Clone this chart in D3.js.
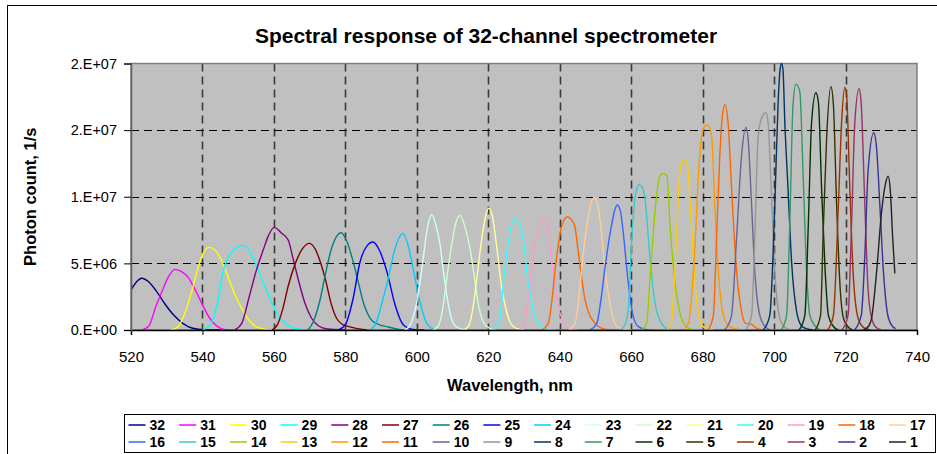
<!DOCTYPE html>
<html>
<head>
<meta charset="utf-8">
<script src="https://cdn.jsdelivr.net/npm/d3@7"></script>
<style>
  html, body { margin: 0; padding: 0; background: #fff; }
  svg { display: block; font-family: "Liberation Sans", Arial, sans-serif; }
</style>
</head>
<body>
<svg id="chart" width="937" height="454"></svg>
<script>
// ---------------- data ----------------
const chartTitle = "Spectral response of 32-channel spectrometer";
const xAxisTitle = "Wavelength, nm";
const yAxisTitle = "Photon count, 1/s";

const wavelengthTicks = [520, 540, 560, 580, 600, 620, 640, 660, 680, 700, 720, 740];
// photon count in millions of 1/s
const countTicks = [0, 5, 10, 15, 20];
const countTickLabels = ["0.E+00", "5.E+06", "1.E+07", "2.E+07", "2.E+07"];

const channels = [32, 31, 30, 29, 28, 27, 26, 25, 24, 23, 22, 21, 20, 19, 18, 17,
                  16, 15, 14, 13, 12, 11, 10, 9, 8, 7, 6, 5, 4, 3, 2, 1];
const channelColors = ["#000080", "#FF00FF", "#FFFF00", "#00FFFF", "#800080", "#800000", "#008080", "#0000FF",
                       "#00CCFF", "#CCFFFF", "#CCFFCC", "#FFFF99", "#33FFFF", "#FF99CC", "#FF6600", "#FFCC99",
                       "#3366FF", "#33CCCC", "#99CC00", "#FFCC00", "#FF9900", "#FF6600", "#666699", "#969696",
                       "#003366", "#339966", "#003300", "#333300", "#993300", "#993366", "#333399", "#222222"];

// [wavelength nm, photon count (millions 1/s)]
const ch32 = [[520,3.0],[521.5,3.6],[523,3.88],[525,3.6],[527,2.95],[529.5,1.95],[532,1.1],[534.5,0.5],[537,0.15],[540,0.03],[545,0]];
const ch31 = [[523,0],[525,0.3],[527,1.8],[529,3.1],[530.5,4.0],[532.3,4.55],[534,4.4],[536,3.95],[538,3.0],[540,1.9],[542,0.9],[544,0.3],[546.5,0.03],[550,0]];
const ch30 = [[531,0],[533,0.2],[535,1.2],[537,2.9],[539,4.9],[540.5,5.9],[541.8,6.2],[543.5,6.0],[545,5.4],[547,4.1],[549,2.7],[551,1.6],[553,0.75],[555,0.25],[557.5,0.05],[560,0]];
const ch29 = [[540,0],[542,0.3],[544,1.8],[546,4.6],[548,5.8],[550,6.25],[551.4,6.33],[553,6.0],[555,4.9],[557,3.6],[559,2.3],[561,1.2],[563,0.55],[565,0.2],[568,0.03],[570,0]];
const ch28 = [[549,0],[551,0.5],[553,2.4],[555,4.4],[557,6.0],[558.5,7.1],[560.1,7.7],[562,7.3],[564,6.75],[565.5,5.2],[567,3.6],[568.7,2.0],[570.5,0.9],[572.5,0.3],[575,0.08],[580,0]];
const ch27 = [[559.5,0],[561,0.4],[562.5,1.6],[564,3.3],[566,5.0],[568,6.1],[569.9,6.5],[571.5,6.1],[573,5.1],[574.5,3.7],[576,2.0],[577.5,0.9],[579,0.45],[581,0.25],[583,0.12],[586,0]];
const ch26 = [[569.5,0],[571,0.6],[572.9,2.25],[574.5,4.3],[576,6.0],[577.5,7.0],[578.8,7.3],[580.5,6.6],[582.2,5.1],[583.7,3.5],[585,2.1],[586.9,0.9],[589,0.45],[591.6,0.25],[595,0.05],[598,0]];
const ch25 = [[578,0],[580,0.4],[582.2,2.4],[584.1,5.1],[586,6.3],[587.7,6.6],[589.5,6.0],[591.6,4.4],[593.9,1.9],[596.2,0.4],[599,0.05],[602,0]];
const ch24 = [[587,0],[588.7,0.6],[590,1.8],[591.6,3.4],[593.9,6.1],[595,6.9],[596,7.25],[597.3,6.6],[598.6,5.1],[600,3.2],[600.9,2.1],[602.8,0.5],[605,0.05],[607,0]];
const ch23 = [[596.5,0],[598,0.3],[599.5,1.5],[600.9,3.6],[602,5.8],[602.8,7.4],[604.2,8.65],[605.3,7.9],[606.5,6.4],[607.5,4.3],[608.4,2.6],[610.2,0.5],[612,0.1],[614,0]];
const ch22 = [[604.5,0],[606,0.3],[607.3,1.7],[608.4,3.9],[610.2,7.1],[611,8.1],[612.1,8.6],[613.5,7.7],[614.9,6.1],[616,4.2],[616.8,2.6],[618.6,0.6],[620.5,0.1],[622,0]];
const ch21 = [[613,0],[614.5,0.3],[615.8,1.8],[616.8,3.9],[618.6,7.6],[619.5,8.8],[620.2,9.15],[621.2,8.5],[622.3,6.4],[623.8,3.1],[625,1.5],[626.1,0.6],[628,0.1],[630,0]];
const ch20 = [[621,0],[622.5,0.3],[623.3,1.0],[624.2,3.4],[625.6,6.6],[626.6,7.9],[627.8,8.38],[628.8,7.9],[629.8,6.75],[631.2,3.5],[633.1,1.0],[635,0.25],[637,0.05],[639,0]];
const ch19 = [[628.5,0],[630,0.3],[630.8,1.5],[631.7,3.5],[633.1,6.5],[634.4,8.0],[635.7,8.45],[636.8,7.6],[637.7,5.25],[638.7,3.2],[639.6,1.75],[641.5,0.4],[643,0.05],[645,0]];
const ch18 = [[635,0],[636.8,0.5],[637.8,2.2],[638.7,4.5],[640.5,7.75],[641.3,8.3],[642.2,8.5],[643.2,8.3],[644.1,7.9],[645.7,4.75],[647.1,2.25],[648.4,1.1],[649.9,0.5],[652,0.1],[655,0]];
const ch17 = [[642.5,0],[644.3,0.5],[645.2,2.0],[646.1,4.5],[648,8.5],[649,9.7],[649.7,9.95],[650.5,9.5],[651.3,8.25],[652.7,4.5],[654.6,1.25],[655.9,0.3],[658,0.05],[660,0]];
const ch16 = [[648.5,0],[650.4,0.5],[651.5,2.2],[652.7,4.75],[654.6,8.0],[655.4,9.0],[656.1,9.38],[657,8.9],[657.8,7.25],[659.2,3.5],[660.6,1.0],[662,0.25],[664,0.05],[666,0]];
const ch15 = [[657,0],[658.3,0.4],[659.2,1.5],[660.1,6.5],[661.1,10.0],[662.2,10.9],[663.1,10.7],[663.9,9.75],[665.3,5.25],[666.7,2.0],[668.5,0.5],[670,0.1],[672,0]];
const ch14 = [[663,0],[664.3,0.5],[665.3,4.0],[666.7,9.0],[667.5,10.9],[668.1,11.6],[669,11.75],[670,11.6],[670.9,7.75],[672.3,3.5],[673.7,1.25],[675.5,0.25],[677,0.05],[679,0]];
const ch13 = [[670,0],[671.2,0.5],[672.6,6.5],[673.5,11.5],[674.2,12.6],[675,12.8],[675.8,12.25],[676.5,9.5],[677.2,6.5],[678.2,2.5],[679.6,0.5],[681,0.1],[683,0]];
const ch12 = [[674.5,0],[676,0.5],[677,2.8],[677.9,6.5],[678.8,11.5],[679.7,14.5],[680.6,15.3],[681.4,15.4],[682.5,14.6],[683.4,9.4],[684.4,4.4],[685.8,1.1],[687.5,0.25],[690,0.05],[692,0]];
const ch11 = [[681.5,0],[683,1.1],[683.9,6.9],[684.8,13.1],[685.5,16.0],[686.2,16.9],[687.1,15.6],[688.1,10.6],[689.5,4.4],[690.9,1.4],[692,0.5],[693.5,0.45],[695,0.15],[697,0]];
const ch10 = [[686,0],[687,0.3],[688.1,1.1],[689.5,6.9],[690.9,13.1],[692.1,15.2],[692.7,14.4],[693.7,9.4],[694.6,4.4],[696,1.1],[697.5,0.25],[699,0]];
const ch9  = [[692,0],[693.7,1.1],[694.6,6.9],[695.5,14.4],[696.5,15.9],[697.7,16.3],[698.3,15.6],[699.2,10.6],[700.2,4.4],[701.6,0.9],[703,0.2],[705,0]];
const ch8  = [[697,0],[698.8,1.1],[700.2,9.4],[701.1,16.9],[701.7,19.6],[702.1,20.0],[702.5,19.5],[703,15.6],[703.9,10.6],[704.9,5.1],[706.3,1.4],[707.7,0.3],[709,0.1],[711,0]];
const ch7  = [[702,0],[703.5,1.1],[704.4,8.1],[705.3,16.9],[706.1,18.45],[707.2,17.9],[708.1,11.9],[709.1,4.4],[710,1.1],[711.5,0.3],[713,0]];
const ch6  = [[707,0],[708.6,1.1],[709.6,8.1],[710.5,15.6],[711.7,17.8],[712.4,17.1],[713.3,10.6],[714.3,4.4],[715.2,1.1],[716.5,0.3],[718,0]];
const ch5  = [[711.5,0],[713,1.1],[713.7,6.9],[714.7,14.4],[715.9,18.25],[716.6,16.9],[717.5,9.4],[718.5,3.1],[719.4,0.9],[720.5,0.3],[722,0]];
const ch4  = [[715,0],[716.6,1.1],[718,9.4],[718.9,15.6],[719.8,18.2],[720.3,17.6],[721.2,10.6],[722.1,4.4],[723.5,0.9],[725,0.2],[727,0]];
const ch3  = [[719,0],[720.7,1.1],[721.7,8.1],[722.6,15.6],[723.8,18.1],[724.4,16.9],[725.4,9.4],[726.3,3.1],[727.3,0.9],[728.5,0.2],[730,0]];
const ch2  = [[722.5,0],[724.4,1.1],[725.4,5.6],[726.3,11.9],[727.9,14.8],[728.7,13.6],[729.6,9.4],[730.6,4.4],[732,0.9],[733.4,0.2],[734,0.1]];
const ch1  = [[725,0],[726.5,0.3],[727.3,0.9],[728.7,4.4],[730.1,8.9],[731.2,11.0],[731.9,11.55],[732.5,10.6],[733.2,6.9],[733.8,4.25]];

const channelData = [ch32, ch31, ch30, ch29, ch28, ch27, ch26, ch25, ch24, ch23, ch22, ch21, ch20, ch19, ch18, ch17,
                     ch16, ch15, ch14, ch13, ch12, ch11, ch10, ch9, ch8, ch7, ch6, ch5, ch4, ch3, ch2, ch1];

// ---------------- layout ----------------
const W = 937, H = 454;
const plot = { left: 131, right: 917, top: 63.5, bottom: 330 };
const FONT = "Liberation Sans, Arial, sans-serif";

const svg = d3.select("#chart");

// outer chart frame
svg.append("rect").attr("x", 7.5).attr("y", 5.5).attr("width", W + 10).attr("height", H + 10)
  .attr("fill", "#fff").attr("stroke", "#000").attr("stroke-width", 1);

const x = d3.scaleLinear().domain([520, 740]).range([plot.left, plot.right]);
const y = d3.scaleLinear().domain([0, 20]).range([plot.bottom, plot.top]);

// plot area background
svg.append("rect").attr("x", plot.left).attr("y", plot.top)
  .attr("width", plot.right - plot.left).attr("height", plot.bottom - plot.top)
  .attr("fill", "#C0C0C0");

// grid lines
const grid = svg.append("g");
grid.selectAll("line.v").data(wavelengthTicks.slice(1, -1)).join("line")
  .attr("x1", d => Math.round(x(d)) + 0.5).attr("x2", d => Math.round(x(d)) + 0.5)
  .attr("y1", plot.top).attr("y2", plot.bottom)
  .attr("stroke", "#3a3a3a").attr("stroke-width", 1.6).attr("stroke-dasharray", "8,5");
grid.selectAll("line.h").data(countTicks.slice(1, -1)).join("line")
  .attr("x1", plot.left).attr("x2", plot.right)
  .attr("y1", d => Math.round(y(d)) + 0.5).attr("y2", d => Math.round(y(d)) + 0.5)
  .attr("stroke", "#000").attr("stroke-width", 1).attr("stroke-dasharray", "8,5");

// plot area border
svg.append("rect").attr("x", plot.left).attr("y", plot.top)
  .attr("width", plot.right - plot.left).attr("height", plot.bottom - plot.top)
  .attr("fill", "none").attr("stroke", "#808080").attr("stroke-width", 1.5);

// clip
svg.append("clipPath").attr("id", "clip").append("rect")
  .attr("x", plot.left).attr("y", plot.top - 1)
  .attr("width", plot.right - plot.left).attr("height", plot.bottom - plot.top + 1);

const line = d3.line().x(d => x(d[0])).y(d => y(d[1])).curve(d3.curveMonotoneX);

svg.append("g").attr("clip-path", "url(#clip)")
  .selectAll("path").data(channelData).join("path")
  .attr("d", d => line(d))
  .attr("fill", "none")
  .attr("stroke", (d, i) => channelColors[i])
  .attr("stroke-width", 1.4)
  .attr("stroke-linejoin", "round");

// axes
const xAxis = d3.axisBottom(x).tickValues(wavelengthTicks).tickSize(5).tickPadding(16).tickFormat(d3.format("d"));
const gx = svg.append("g").attr("transform", `translate(0,${plot.bottom})`).call(xAxis);
gx.select(".domain").attr("stroke", "#000").attr("stroke-width", 1.5);
gx.selectAll(".tick line").attr("stroke", "#000");
gx.selectAll("text").attr("font-size", 15).attr("fill", "#000").attr("font-family", FONT);

const yAxis = d3.axisLeft(y).tickValues(countTicks).tickSize(7).tickPadding(7)
  .tickFormat((d, i) => countTickLabels[i]);
const gy = svg.append("g").attr("transform", `translate(${plot.left},0)`).call(yAxis);
gy.select(".domain").attr("stroke", "#606060").attr("stroke-width", 1.5);
gy.selectAll(".tick line").attr("stroke", "#000");
gy.selectAll("text").attr("font-size", 14.5).attr("fill", "#000").attr("font-family", FONT);

// titles
svg.append("text").attr("x", 486).attr("y", 43).attr("text-anchor", "middle")
  .attr("font-size", 21).attr("font-weight", "bold").text(chartTitle);
svg.append("text").attr("x", 510).attr("y", 391).attr("text-anchor", "middle")
  .attr("font-size", 16.5).attr("font-weight", "bold").text(xAxisTitle);
svg.append("text").attr("transform", `translate(36,${(plot.top + plot.bottom) / 2}) rotate(-90)`)
  .attr("text-anchor", "middle").attr("font-size", 16.5).attr("font-weight", "bold").text(yAxisTitle);

// legend
const legend = { left: 124.5, top: 414.5, width: 811, height: 38, perRow: 16, colW: 50.7 };
svg.append("rect").attr("x", legend.left).attr("y", legend.top)
  .attr("width", legend.width).attr("height", legend.height)
  .attr("fill", "#fff").attr("stroke", "#000").attr("stroke-width", 1);
const items = svg.append("g").selectAll("g").data(channels).join("g")
  .attr("transform", (d, i) => {
    const col = i % legend.perRow, row = Math.floor(i / legend.perRow);
    return `translate(${legend.left + 4 + col * legend.colW},${legend.top + 10.5 + row * 17})`;
  });
items.append("line").attr("x1", 0).attr("x2", 17).attr("y1", 0).attr("y2", 0)
  .attr("stroke", (d, i) => channelColors[i]).attr("stroke-width", 1.5);
items.append("text").attr("x", 21).attr("y", 5).attr("font-size", 14).attr("font-weight", "bold")
  .text(d => d);
</script>
</body>
</html>
